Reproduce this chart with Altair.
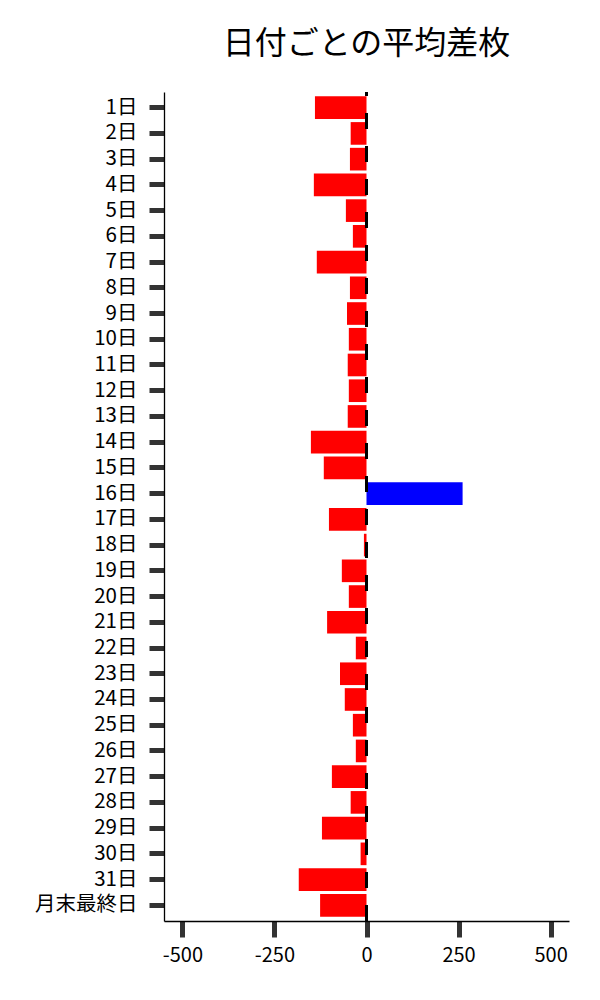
import altair as alt
import pandas as pd

days = [f"{i}日" for i in range(1, 32)] + ["月末最終日"]
values = [-140, -43, -45, -143, -56, -37, -135, -45, -53, -48,
          -51, -48, -51, -151, -116, 261, -102, -7, -67, -48,
          -107, -29, -72, -59, -37, -29, -94, -43, -121, -16,
          -184, -126]
x_ticks = [-500, -250, 0, 250, 500]

df = pd.DataFrame({"day": days, "value": values})

FONT = "Noto Sans CJK JP"

bars = alt.Chart(df).mark_bar().encode(
    y=alt.Y("day:N", sort=days, title=None,
            scale=alt.Scale(paddingInner=0.12, paddingOuter=0.17),
            axis=alt.Axis(tickSize=15, tickWidth=5, tickColor="#333333",
                          labelPadding=12, labelFontSize=20.5, labelFont=FONT,
                          labelColor="black", domainColor="black", domainWidth=1.3,
                          grid=False)),
    x=alt.X("value:Q", title=None,
            scale=alt.Scale(domain=[-550, 550], nice=False, zero=False),
            axis=alt.Axis(values=x_ticks, tickSize=16, tickWidth=5, tickColor="#333333",
                          labelPadding=8, labelFontSize=20, labelFont=FONT,
                          labelColor="black", domainColor="black", domainWidth=1.3,
                          labelExpr="'' + datum.value", grid=False, labelFlush=False)),
    color=alt.condition(alt.datum.value > 0, alt.value("#0000FF"), alt.value("#FF0000")),
)

zero = alt.Chart(df).mark_rule(color="black", strokeWidth=2.5, strokeDash=[16, 17]).encode(
    x=alt.datum(0),
    y=alt.value(829),
    y2=alt.value(0),
)

chart = alt.layer(bars, zero).properties(
    width=405,
    height=829,
    background="white",
    title=alt.TitleParams("日付ごとの平均差枚", font=FONT, fontSize=32,
                          fontWeight="normal", color="black", anchor="middle", offset=30),
    autosize=alt.AutoSizeParams(type="none"),
    padding={"left": 156, "top": 84, "right": 23, "bottom": 71},
).configure_view(strokeWidth=0, stroke="transparent")

chart.save("out.html", embed_options={"renderer": "svg", "actions": False})
